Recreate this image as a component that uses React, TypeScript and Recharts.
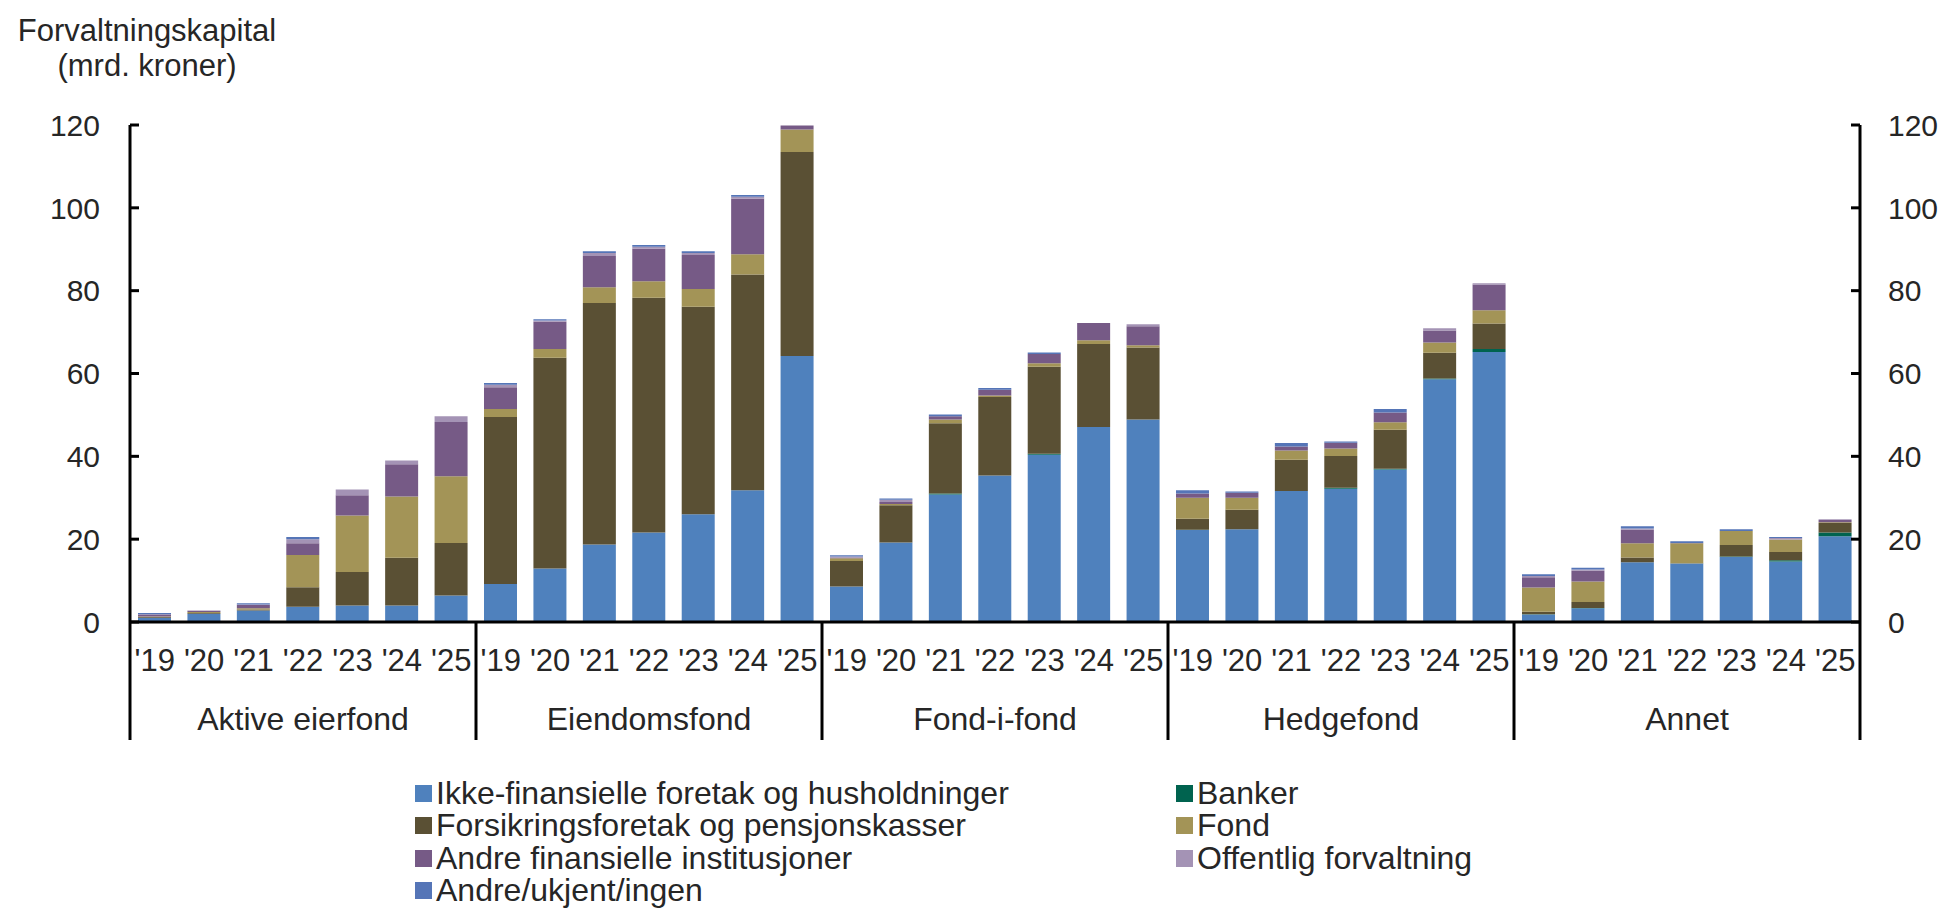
import { BarChart, Bar, XAxis, YAxis, Legend } from 'recharts';

// categories
const groups = ['Aktive eierfond', 'Eiendomsfond', 'Fond-i-fond', 'Hedgefond', 'Annet'];
const years = ["'19", "'20", "'21", "'22", "'23", "'24", "'25"];
const yTicks = [0, 20, 40, 60, 80, 100, 120];

// series values, 7 years per group in the order of `groups`
const ikkeFinansielle = [
  1.0, 2.0, 2.8, 3.7, 4.0, 4.0, 6.4,
  9.2, 12.9, 18.7, 21.6, 26.0, 31.8, 64.2,
  8.6, 19.2, 30.8, 35.4, 40.4, 47.1, 48.9,
  22.2, 22.4, 31.6, 32.2, 36.8, 58.6, 65.2,
  1.8, 3.3, 14.4, 14.1, 15.7, 14.6, 20.7,
];
const banker = [
  0, 0, 0, 0, 0, 0, 0,
  0, 0, 0, 0, 0, 0, 0,
  0, 0, 0.2, 0, 0.2, 0, 0,
  0.1, 0, 0, 0.2, 0.2, 0.2, 0.7,
  0.1, 0.1, 0, 0, 0.1, 0.3, 0.9,
];
const forsikring = [
  0.2, 0.2, 0.2, 4.7, 8.1, 11.5, 12.7,
  40.3, 50.9, 58.3, 56.7, 50.1, 52.1, 49.3,
  6.1, 9.0, 17.0, 18.9, 21.0, 20.0, 17.4,
  2.6, 4.7, 7.6, 7.7, 9.4, 6.2, 6.2,
  0.6, 1.4, 1.2, 0.1, 2.8, 2.0, 2.3,
];
const fond = [
  0.1, 0.2, 0.3, 7.8, 13.6, 14.8, 16.1,
  1.9, 2.1, 3.8, 4.0, 4.3, 4.9, 5.4,
  0.7, 0.3, 0.9, 0.4, 0.9, 0.9, 0.5,
  5.1, 2.9, 2.2, 1.8, 1.8, 2.5, 3.2,
  5.8, 5.0, 3.4, 4.8, 3.4, 3.0, 0.2,
];
const andreFinansielle = [
  0.5, 0.3, 0.8, 2.8, 4.9, 7.8, 13.1,
  5.3, 6.6, 7.6, 7.8, 8.2, 13.4, 1.0,
  0.2, 0.5, 0.8, 1.4, 2.2, 4.2, 4.6,
  1.0, 1.2, 1.0, 1.4, 2.4, 2.9, 6.2,
  2.5, 2.6, 3.3, 0.1, 0, 0, 0.5,
];
const offentlig = [
  0.1, 0.1, 0.1, 1.0, 1.4, 0.9, 1.4,
  0.6, 0.3, 0.7, 0.5, 0.5, 0.5, 0,
  0.2, 0.5, 0, 0, 0, 0, 0.5,
  0, 0, 0, 0, 0, 0.5, 0.3,
  0.3, 0.3, 0.3, 0, 0, 0.4, 0.2,
];
const andreUkjent = [
  0.3, 0, 0.3, 0.5, 0, 0, 0,
  0.4, 0.3, 0.4, 0.4, 0.4, 0.4, 0,
  0.3, 0.3, 0.4, 0.4, 0.4, 0, 0,
  0.8, 0.3, 0.8, 0.3, 0.8, 0, 0,
  0.4, 0.4, 0.5, 0.4, 0.4, 0.2, 0,
];

const series = [
  { key: 'ikke', name: 'Ikke-finansielle foretak og husholdninger', color: '#4F81BD', values: ikkeFinansielle },
  { key: 'banker', name: 'Banker', color: '#00634F', values: banker },
  { key: 'forsikring', name: 'Forsikringsforetak og pensjonskasser', color: '#5A5034', values: forsikring },
  { key: 'fond', name: 'Fond', color: '#A39457', values: fond },
  { key: 'andreFin', name: 'Andre finansielle institusjoner', color: '#765A86', values: andreFinansielle },
  { key: 'offentlig', name: 'Offentlig forvaltning', color: '#A493B5', values: offentlig },
  { key: 'andreUkjent', name: 'Andre/ukjent/ingen', color: '#5575B7', values: andreUkjent },
];

const data = groups.flatMap((g, gi) =>
  years.map((y, yi) => {
    const i = gi * years.length + yi;
    const row: Record<string, string | number> = { key: `${g} ${y}`, year: y, group: g };
    series.forEach((s) => (row[s.key] = s.values[i]));
    return row;
  })
);

const W = 1949;
const H = 909;
const PLOT_LEFT = 130;
const PLOT_RIGHT = 1860;
const PLOT_TOP = 125;
const PLOT_BOTTOM = 622;
const SEP_BOTTOM = 740;
const BAND = (PLOT_RIGHT - PLOT_LEFT) / data.length;
const FONT = '"Liberation Sans", Arial, sans-serif';
const TEXT = '#262626';

const XTick = (props: any) => {
  const { x, index } = props;
  const yi = index % years.length;
  const gi = Math.floor(index / years.length);
  return (
    <g>
      <text x={x} y={671} textAnchor="middle" fontSize={31} fontFamily={FONT} fill={TEXT}>
        {years[yi]}
      </text>
      {yi === 0 && (
        <line x1={x - BAND / 2} x2={x - BAND / 2} y1={PLOT_BOTTOM} y2={SEP_BOTTOM} stroke="#000" strokeWidth={3} />
      )}
      {index === data.length - 1 && (
        <line x1={x + BAND / 2} x2={x + BAND / 2} y1={PLOT_BOTTOM} y2={SEP_BOTTOM} stroke="#000" strokeWidth={3} />
      )}
      {yi === 3 && (
        <text x={x} y={730} textAnchor="middle" fontSize={32} fontFamily={FONT} fill={TEXT}>
          {groups[gi]}
        </text>
      )}
    </g>
  );
};

const LeftTick = (props: any) => {
  const { y, payload } = props;
  return (
    <g>
      <line x1={PLOT_LEFT} x2={PLOT_LEFT + 9} y1={y} y2={y} stroke="#000" strokeWidth={3} />
      <text x={100} y={y} dy="0.36em" textAnchor="end" fontSize={30} fontFamily={FONT} fill={TEXT}>
        {payload.value}
      </text>
    </g>
  );
};

const RightTick = (props: any) => {
  const { y, payload } = props;
  return (
    <g>
      <line x1={PLOT_RIGHT - 9} x2={PLOT_RIGHT} y1={y} y2={y} stroke="#000" strokeWidth={3} />
      <text x={1888} y={y} dy="0.36em" textAnchor="start" fontSize={30} fontFamily={FONT} fill={TEXT}>
        {payload.value}
      </text>
    </g>
  );
};

const renderLegend = () => (
  <div style={{ position: 'relative', width: W, height: 139, fontFamily: FONT, fontSize: 32, color: TEXT }}>
    {series.map((s, i) => {
      const col = i % 2;
      const row = Math.floor(i / 2);
      return (
        <div
          key={s.key}
          style={{
            position: 'absolute',
            left: col === 0 ? 415 : 1176,
            top: 23 + row * 32.5 - 17,
            height: 34,
            display: 'flex',
            alignItems: 'center',
            whiteSpace: 'nowrap',
          }}
        >
          <span style={{ width: 17, height: 17, background: s.color, marginRight: 4, display: 'inline-block' }} />
          <span>{s.name}</span>
        </div>
      );
    })}
  </div>
);

export default function App() {
  return (
    <div style={{ position: 'absolute', left: 0, top: 0, width: W, height: H, background: '#fff' }}>
      <div
        style={{
          position: 'absolute',
          left: 0,
          top: 13,
          width: 294,
          textAlign: 'center',
          fontFamily: FONT,
          fontSize: 31,
          lineHeight: '35px',
          color: TEXT,
        }}
      >
        Forvaltningskapital
        <br />
        (mrd. kroner)
      </div>
      <BarChart
        width={W}
        height={H}
        data={data}
        margin={{ top: PLOT_TOP, left: 0, right: 0, bottom: H - PLOT_BOTTOM - 120 }}
        barSize={33}
      >
        <XAxis
          dataKey="key"
          height={120}
          interval={0}
          tickLine={false}
          axisLine={{ stroke: '#000', strokeWidth: 3 }}
          tick={<XTick />}
        />
        <YAxis
          yAxisId="left"
          domain={[0, 120]}
          ticks={yTicks}
          interval={0}
          width={PLOT_LEFT}
          allowDataOverflow
          tickLine={false}
          axisLine={{ stroke: '#000', strokeWidth: 3 }}
          tick={<LeftTick />}
        />
        <YAxis
          yAxisId="right"
          orientation="right"
          domain={[0, 120]}
          ticks={yTicks}
          interval={0}
          width={W - PLOT_RIGHT}
          allowDataOverflow
          tickLine={false}
          axisLine={{ stroke: '#000', strokeWidth: 3 }}
          tick={<RightTick />}
        />
        <Legend
          layout="vertical"
          align="center"
          verticalAlign="middle"
          wrapperStyle={{ left: 0, top: 770, width: W, height: 139 }}
          content={renderLegend}
        />
        {series.map((s) => (
          <Bar
            key={s.key}
            dataKey={s.key}
            name={s.name}
            stackId="a"
            yAxisId="left"
            fill={s.color}
            isAnimationActive={false}
          />
        ))}
      </BarChart>
    </div>
  );
}
